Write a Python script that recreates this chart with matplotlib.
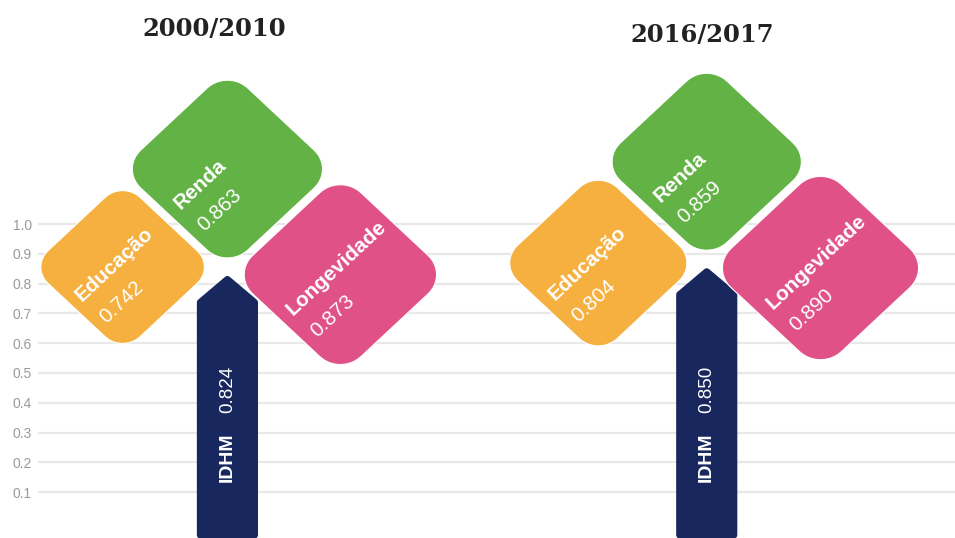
import numpy as np
import matplotlib.pyplot as plt
from matplotlib.patches import Polygon

# data
periods = ["2000/2010", "2016/2017"]
idhm = [0.824, 0.850]
educacao = [0.742, 0.804]
renda = [0.863, 0.859]
longevidade = [0.873, 0.890]
yticks = [0.1, 0.2, 0.3, 0.4, 0.5, 0.6, 0.7, 0.8, 0.9, 1.0]

# colors
C_EDU = "#F6B040"
C_RENDA = "#63B245"
C_LONG = "#E05187"
C_IDHM = "#18285E"
C_GRID = "#e8e8e8"
C_TICK = "#9a9a9a"

# layout (pixels of the 955x538 picture)
W, H = 955, 538
PX_Y = 298.0   # px per value unit
PX_X = 318.9   # picture is a bit stretched sideways
LEFT = 38
tree_x = [0.594, 2.097]
title_y = [1.654, 1.634]
title_x = [0.552, 2.084]
SIDE_K = 0.55   # side of a leaf per unit of value
ROUND = 0.19
GAP = 0.0235

plt.rcParams["font.family"] = ["Liberation Sans", "DejaVu Sans"]

fig = plt.figure(figsize=(W / 100, H / 100), dpi=100)
ax = fig.add_axes([LEFT / W, 0, 1 - LEFT / W, 1])
ax.set_xlim(0, (W - LEFT) / PX_X)
ax.set_ylim(-16 / PX_Y, 522 / PX_Y)
for sp in ax.spines.values():
    sp.set_visible(False)
ax.set_xticks([])
ax.set_yticks(yticks, [f"{t:.1f}" for t in yticks])
ax.tick_params(axis="y", length=0, pad=4.5, labelsize=10, labelcolor=C_TICK)
ax.yaxis.grid(True, color=C_GRID, lw=1.6)
ax.set_axisbelow(True)


def rounded_diamond(cx, cy, s, r, n=12):
    h = s / 2 - r
    pts = []
    for qx, qy, a0 in [(h, h, 0), (-h, h, 90), (-h, -h, 180), (h, -h, 270)]:
        t = np.radians(np.linspace(a0, a0 + 90, n))
        pts.append(np.column_stack([qx + r * np.cos(t), qy + r * np.sin(t)]))
    pts = np.vstack(pts)
    a = np.radians(45)
    rot = np.array([[np.cos(a), -np.sin(a)], [np.sin(a), np.cos(a)]])
    return pts @ rot.T + [cx, cy]


def half_extent(s):
    r = ROUND * s
    return (s / 2 - r) * np.sqrt(2) + r


def leaf(cx, cy, val, color, name):
    s = SIDE_K * val
    ax.add_patch(Polygon(rounded_diamond(cx, cy, s, ROUND * s), closed=True,
                         fc=color, ec="white", lw=0.8, zorder=3))
    u = np.array([1, 1]) / np.sqrt(2)
    v = np.array([1, -1]) / np.sqrt(2)
    c = np.array([cx, cy])
    p1 = c - 0.42 * s * u - 0.024 * v
    p2 = c - 0.42 * s * u + 0.080 * v
    ax.text(p1[0], p1[1], name, rotation=43, rotation_mode="anchor",
            ha="left", va="center", color="white", fontsize=15,
            fontweight="bold", zorder=4)
    ax.text(p2[0], p2[1], f"{val:.3f}", rotation=43, rotation_mode="anchor",
            ha="left", va="center", color="white", fontsize=15, zorder=4)


for i in range(len(periods)):
    x = tree_x[i]
    # trunk
    hw = 0.085
    top = idhm[i] - 0.01
    shoulder = idhm[i] - 0.087
    trunk = [(x - hw, -0.044), (x - hw, shoulder), (x, top),
             (x + hw, shoulder), (x + hw, -0.044)]
    ax.add_patch(Polygon(trunk, closed=True, fc=C_IDHM, ec=C_IDHM, lw=5,
                         joinstyle="round", zorder=3))
    ax.text(x, 0.134, "IDHM", rotation=90, rotation_mode="anchor", ha="left",
            va="center", color="white", fontsize=14, fontweight="bold", zorder=4)
    ax.text(x, 0.366, f"{idhm[i]:.3f}", rotation=90, rotation_mode="anchor",
            ha="left", va="center", color="white", fontsize=13.5, zorder=4)

    # leaves
    s_r = SIDE_K * renda[i]
    cy_r = idhm[i] + 0.062 + half_extent(s_r)
    leaf(x, cy_r, renda[i], C_RENDA, "Renda")

    s_e = SIDE_K * educacao[i]
    d = ((s_r + s_e) / 2 + GAP) / np.sqrt(2)
    leaf(x - d, cy_r - d, educacao[i], C_EDU, "Educação")

    s_l = SIDE_K * longevidade[i]
    d = ((s_r + s_l) / 2 + GAP) / np.sqrt(2)
    leaf(x + d, cy_r - d, longevidade[i], C_LONG, "Longevidade")

    ax.text(title_x[i], title_y[i], periods[i], ha="center", va="center",
            fontsize=17.5, family="DejaVu Serif", fontweight="bold",
            color="#222222")

fig.savefig("out.png", dpi=100)
